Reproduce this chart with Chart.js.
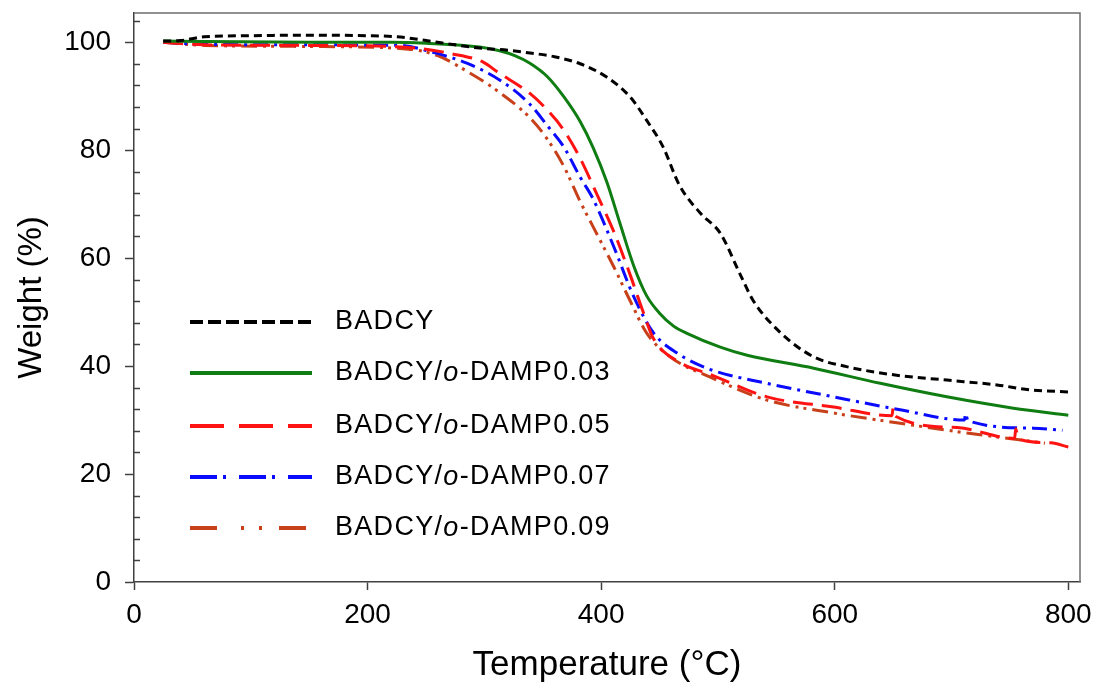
<!DOCTYPE html>
<html>
<head>
<meta charset="utf-8">
<script src="https://cdn.jsdelivr.net/npm/chart.js@4.4.1/dist/chart.umd.min.js"></script>
<style>
  html, body { margin: 0; padding: 0; background: #fff; }
</style>
</head>
<body>
<canvas id="tga" width="1099" height="688"></canvas>
<script>
// TGA curves: temperature (°C) and weight (%)
const badcyT = [25, 40, 60, 100, 150, 200, 225, 250, 275, 296, 320, 339, 360, 382, 405, 425, 439, 453, 467, 485, 502, 519, 530, 553, 582, 610, 653, 696, 739, 767, 800];
const badcyW = [100.2, 100.3, 101.0, 101.2, 101.3, 101.2, 101.0, 100.3, 99.5, 98.9, 98.5, 98.0, 97.3, 96.0, 93.5, 89.8, 85.5, 80.6, 73.5, 68.3, 64.6, 57.0, 52.2, 46.3, 41.7, 39.9, 38.3, 37.4, 36.5, 35.6, 35.2];

const damp03T = [25, 60, 150, 220, 250, 296, 313, 326, 339, 354, 368, 382, 393, 405, 416, 428, 439, 450, 462, 473, 502, 525, 582, 639, 696, 753, 800];
const damp03W = [100.2, 100.1, 100.0, 100.0, 99.8, 99.1, 98.4, 97.5, 96.1, 93.6, 89.9, 85.3, 80.5, 74.0, 66.5, 58.5, 53.0, 49.8, 47.4, 46.1, 43.5, 42.0, 39.6, 36.8, 34.3, 32.2, 30.9];

const damp05T = [25, 60, 150, 219, 242, 271, 299, 311, 339, 354, 368, 382, 396, 411, 425, 436, 445, 468, 493, 542, 599, 649, 650, 652, 705, 754, 755, 757, 785, 800];
const damp05W = [100.0, 99.5, 99.4, 99.2, 98.9, 97.9, 96.3, 94.5, 90.5, 87.4, 83.7, 78.5, 72.0, 64.8, 56.8, 50.0, 45.0, 40.6, 38.5, 34.3, 32.4, 30.8, 32.2, 30.7, 28.6, 26.6, 28.4, 26.5, 25.8, 25.0];

const damp07T = [25, 60, 150, 228, 256, 285, 313, 339, 354, 368, 382, 393, 411, 428, 445, 465, 493, 542, 599, 656, 711, 712, 714, 770, 795];
const damp07W = [100.0, 99.6, 99.5, 99.4, 98.1, 96.1, 93.0, 88.5, 84.5, 80.6, 75.0, 71.0, 62.0, 52.8, 46.1, 42.4, 39.4, 36.8, 34.3, 31.9, 30.0, 31.2, 29.9, 28.5, 28.1];

const damp09T = [25, 60, 150, 235, 260, 282, 311, 339, 354, 368, 382, 396, 411, 425, 439, 459, 493, 542, 599, 656, 713, 770, 780];
const damp09W = [100.0, 99.4, 99.2, 98.7, 97.5, 95.0, 91.0, 86.0, 82.0, 77.0, 70.5, 64.6, 58.3, 52.0, 46.1, 41.7, 38.0, 33.7, 31.3, 29.4, 27.6, 26.0, 25.7];

const seriesNames = ['BADCY', 'BADCY/o-DAMP0.03', 'BADCY/o-DAMP0.05', 'BADCY/o-DAMP0.07', 'BADCY/o-DAMP0.09'];
const xTicks = [0, 200, 400, 600, 800];
const yTicks = [0, 20, 40, 60, 80, 100];

const FONT = "'Liberation Sans', Arial, sans-serif";

function pts(xs, ys) {
  return xs.map((x, i) => ({ x, y: ys[i] }));
}

function makeSet(label, xs, ys, color, dash, legendDash) {
  return {
    label,
    data: pts(xs, ys),
    borderColor: color,
    backgroundColor: color,
    borderWidth: 3,
    borderDash: dash,
    legendDash,
    pointRadius: 0,
    showLine: true,
    fill: false,
    cubicInterpolationMode: 'monotone'
  };
}

// legend drawn inside the plot, long line samples, italic "o"
const insideLegend = {
  id: 'insideLegend',
  afterDraw(chart) {
    const ctx = chart.ctx;
    const x0 = 190, x1 = 312, tx = 335;
    const rowY = [322, 373, 426, 477, 528];
    ctx.save();
    chart.data.datasets.forEach((ds, i) => {
      const y = rowY[i];
      ctx.beginPath();
      ctx.strokeStyle = ds.borderColor;
      ctx.lineWidth = 4;
      ctx.setLineDash(ds.legendDash || []);
      ctx.moveTo(x0, y);
      ctx.lineTo(x1, y);
      ctx.stroke();
      ctx.setLineDash([]);

      ctx.fillStyle = '#000';
      ctx.textBaseline = 'middle';
      ctx.textAlign = 'left';
      ctx.letterSpacing = '1.3px';
      const parts = ds.label.split('/o-');
      let x = tx;
      const normal = '27px ' + FONT;
      const italic = 'italic 27px ' + FONT;
      if (parts.length === 1) {
        ctx.font = normal;
        ctx.fillText(parts[0], x, y);
      } else {
        ctx.font = normal;
        ctx.fillText(parts[0] + '/', x, y);
        x += ctx.measureText(parts[0] + '/').width;
        ctx.font = italic;
        ctx.fillText('o', x, y);
        x += ctx.measureText('o').width;
        ctx.font = normal;
        ctx.fillText('-' + parts[1], x, y);
      }
      ctx.letterSpacing = '0px';
    });
    ctx.restore();
  }
};

// grey frame on top/right plus inward minor ticks on y
const frame = {
  id: 'frame',
  beforeDatasetsDraw(chart) {
    const { ctx, chartArea: a, scales } = chart;
    ctx.save();
    ctx.strokeStyle = '#6e6e6e';
    ctx.lineWidth = 1.5;
    ctx.beginPath();
    ctx.moveTo(a.left, a.top);
    ctx.lineTo(a.right, a.top);
    ctx.lineTo(a.right, a.bottom);
    ctx.stroke();

    ctx.strokeStyle = '#404040';
    ctx.beginPath();
    for (let v = 4; v <= 104; v += 4) {
      if (v % 20 === 0) continue;
      const py = Math.round(scales.y.getPixelForValue(v)) + 0.5;
      ctx.moveTo(a.left, py);
      ctx.lineTo(a.left + 6, py);
    }
    ctx.stroke();
    ctx.restore();
  }
};

new Chart(document.getElementById('tga'), {
  type: 'scatter',
  data: {
    datasets: [
      makeSet(seriesNames[0], badcyT, badcyW, '#000000', [8, 5], [13, 5]),
      makeSet(seriesNames[1], damp03T, damp03W, '#0f7d12', [], []),
      makeSet(seriesNames[2], damp05T, damp05W, '#ff1212', [20, 9], [34, 15]),
      makeSet(seriesNames[3], damp07T, damp07W, '#0a0aff', [15, 6, 3, 6], [27, 6, 3, 13]),
      makeSet(seriesNames[4], damp09T, damp09W, '#c8401a', [16, 6, 3, 5, 3, 6], [27, 24, 3, 15, 3, 17])
    ]
  },
  options: {
    responsive: false,
    animation: false,
    layout: { padding: { top: 13, right: 19, left: 0, bottom: 0 } },
    plugins: {
      legend: { display: false },
      tooltip: { enabled: false }
    },
    scales: {
      x: {
        type: 'linear',
        min: 0,
        max: 810,
        afterFit: s => { s.height = 106; s.paddingLeft = 0; s.paddingRight = 0; },
        afterBuildTicks: s => { s.ticks = xTicks.map(v => ({ value: v })); },
        grid: { drawOnChartArea: false, tickLength: 8, color: '#404040', tickWidth: 1.5 },
        border: { color: '#404040', width: 1.5 },
        ticks: { color: '#000', padding: 8, font: { size: 28, family: FONT } },
        title: {
          display: true,
          text: 'Temperature (°C)',
          color: '#000',
          font: { size: 35, family: FONT },
          padding: { top: 0, bottom: 2 }
        }
      },
      y: {
        type: 'linear',
        min: 0,
        max: 105.4,
        afterFit: s => { s.width = 134; s.paddingTop = 0; s.paddingBottom = 0; },
        afterBuildTicks: s => { s.ticks = yTicks.map(v => ({ value: v })); },
        grid: { drawOnChartArea: false, tickLength: 9, color: '#404040', tickWidth: 1.5 },
        border: { color: '#404040', width: 1.5 },
        ticks: { color: '#000', padding: 14, font: { size: 28, family: FONT } },
        title: {
          display: true,
          text: 'Weight (%)',
          color: '#000',
          font: { size: 33, family: FONT },
          padding: { top: 12, bottom: 0 }
        }
      }
    }
  },
  plugins: [frame, insideLegend]
});
</script>
</body>
</html>
